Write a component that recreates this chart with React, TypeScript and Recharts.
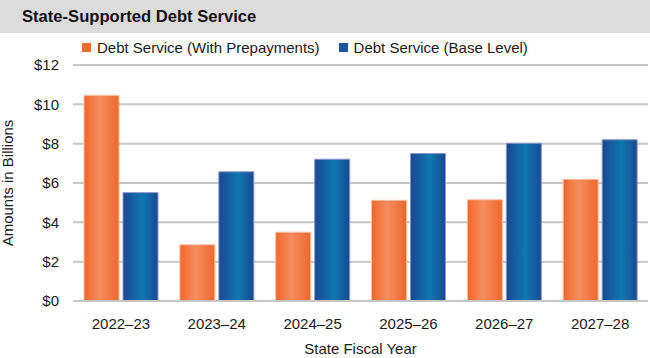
import { BarChart, Bar, XAxis, YAxis, CartesianGrid, Legend } from "recharts";

const years = ["2022–23", "2023–24", "2024–25", "2025–26", "2026–27", "2027–28"];
const withPrepayments = [10.46, 2.86, 3.5, 5.12, 5.15, 6.19];
const baseLevel = [5.51, 6.57, 7.21, 7.5, 8.02, 8.2];
const yTicks = [0, 2, 4, 6, 8, 10, 12];

const seriesKeys = ["prepay", "base"];
const seriesNames: Record<string, string> = {
  prepay: "Debt Service (With Prepayments)",
  base: "Debt Service (Base Level)",
};
const swatch: Record<string, string> = {
  prepay: "#F26A2C",
  base: "#1A55A0",
};

const data = years.map((year, i) => ({
  year,
  prepay: withPrepayments[i],
  base: baseLevel[i],
}));

const font = "'Liberation Sans', Arial, sans-serif";

// keep series order fixed (recharts sorts legend items by name otherwise)
const LegendBox = () => (
  <div style={{ display: "flex", alignItems: "center", fontSize: 15, color: "#1a1a1a", fontFamily: font }}>
    {seriesKeys.map((k) => (
      <div key={k} style={{ display: "flex", alignItems: "center", marginRight: 19 }}>
        <span style={{ width: 9, height: 9, background: swatch[k], marginRight: 6, display: "inline-block" }} />
        <span>{seriesNames[k]}</span>
      </div>
    ))}
  </div>
);

export default function App() {
  return (
    <div style={{ position: "absolute", left: 0, top: 0, width: 650, height: 358, background: "#fff", fontFamily: font }}>
      <div
        style={{
          height: 33,
          background: "#DCDCDC",
          display: "flex",
          alignItems: "center",
          paddingLeft: 22,
          fontWeight: "bold",
          fontSize: 16.6,
          color: "#111",
        }}
      >
        State-Supported Debt Service
      </div>
      <BarChart
        width={650}
        height={325}
        data={data}
        margin={{ top: 32, right: 2, left: 0, bottom: 0 }}
        barSize={35}
        barGap={4}
      >
        <defs>
          <linearGradient id="orangeGrad" x1="0" y1="0" x2="1" y2="0">
            <stop offset="0%" stopColor="#F0672A" />
            <stop offset="45%" stopColor="#F58D60" />
            <stop offset="100%" stopColor="#F0672A" />
          </linearGradient>
          <linearGradient id="blueGrad" x1="0" y1="0" x2="1" y2="0">
            <stop offset="0%" stopColor="#1A4892" />
            <stop offset="55%" stopColor="#0E78B0" />
            <stop offset="100%" stopColor="#1A4892" />
          </linearGradient>
        </defs>
        <CartesianGrid vertical={false} stroke="#C6C6C6" strokeWidth={2} />
        <XAxis
          dataKey="year"
          height={57}
          tickLine={false}
          tickSize={0}
          tickMargin={17}
          axisLine={{ stroke: "#C6C6C6", strokeWidth: 2 }}
          tick={{ fill: "#1a1a1a", fontSize: 15, fontFamily: font }}
          label={{ value: "State Fiscal Year", position: "insideBottom", offset: 4, fill: "#1a1a1a", fontSize: 15, fontFamily: font }}
        />
        <YAxis
          width={73}
          domain={[0, 12]}
          ticks={yTicks}
          tickFormatter={(v: number) => `$${v}`}
          tickLine={false}
          axisLine={false}
          tickSize={0}
          tickMargin={14}
          tick={{ fill: "#1a1a1a", fontSize: 15, fontFamily: font }}
          label={{ value: "Amounts in Billions", angle: -90, position: "center", dx: -29, fill: "#1a1a1a", fontSize: 15, fontFamily: font }}
        />
        <Legend
          verticalAlign="middle"
          align="center"
          layout="horizontal"
          content={<LegendBox />}
          wrapperStyle={{ top: 6, left: 82, width: "auto", height: "auto" }}
        />
        <Bar dataKey="prepay" name={seriesNames.prepay} fill="url(#orangeGrad)" stroke="#F8C2A6" strokeWidth={1} isAnimationActive={false} />
        <Bar dataKey="base" name={seriesNames.base} fill="url(#blueGrad)" stroke="#8C95CC" strokeWidth={1} isAnimationActive={false} />
      </BarChart>
    </div>
  );
}
